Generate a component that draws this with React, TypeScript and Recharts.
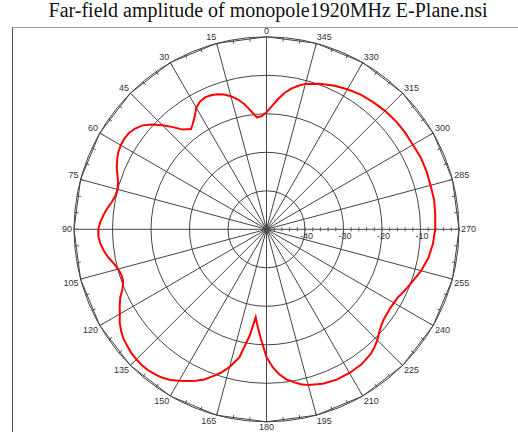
import React from 'react';
import { RadarChart, Radar, PolarGrid, PolarAngleAxis, PolarRadiusAxis } from 'recharts';

// angle in degrees (0 at top, counter-clockwise), gain in dB
const angleDeg = [
  0, 2.5, 5, 7.5, 10, 12.5, 15, 17.5, 20, 22.5, 25, 27.5, 30, 32.5, 35, 37, 40, 42.5, 45, 47.5,
  50, 52.5, 55, 57.5, 60, 62.5, 65, 67.5, 70, 72.5, 75, 77.5, 80, 82.5, 85, 87.5, 90, 92.5, 95, 97.5,
  100, 102.5, 105, 107.5, 110, 112.5, 115, 117.5, 120, 122.5, 125, 127.5, 130, 132.5, 135, 137.5, 140, 142.5, 145, 147.5,
  150, 152.5, 155, 157.5, 160, 162.5, 165, 168, 171, 173, 175, 177, 180, 182.5, 185, 187.5, 190, 192.5, 195,
  200, 205, 210, 215, 220, 222.5, 225, 227.5, 230, 232.5, 235, 237.5, 240, 242.5, 245, 247.5, 250, 255, 260, 265,
  270, 275, 280, 285, 290, 295, 300, 305, 310, 315, 320, 325, 330, 335, 340, 345, 347.5, 350, 352.5, 355, 357.5,
];
const gainDb = [
  -19.6, -20.6, -20.8, -19.0, -17.0, -15.4, -14.2, -13.3, -12.7, -12.3, -12.2, -12.6, -13.5, -15.3, -16.6, -17.4, -16.2, -14.0, -11.8, -9.7,
  -8.0, -7.0, -6.4, -6.2, -6.3, -6.6, -7.2, -7.9, -8.8, -9.6, -9.9, -9.8, -9.2, -8.3, -7.5, -6.8, -6.3, -6.3, -6.7, -7.4,
  -8.2, -9.3, -10.1, -10.5, -10.4, -9.5, -8.1, -7.0, -6.0, -4.8, -3.9, -3.2, -2.8, -2.4, -2.2, -2.1, -2.2, -2.5, -2.9, -3.6,
  -4.6, -5.6, -6.6, -7.8, -9.4, -11.0, -13.0, -16.0, -22.0, -27.0, -24.4, -21.6, -16.8, -14.2, -12.2, -10.7, -9.7, -8.8, -8.1,
  -7.3, -6.9, -6.9, -7.1, -7.8, -8.5, -9.3, -10.3, -11.1, -11.6, -11.8, -11.9, -11.8, -11.6, -11.0, -10.4, -9.8, -8.4, -7.3, -6.6,
  -6.2, -6.0, -5.8, -5.9, -5.8, -5.8, -6.1, -6.1, -6.2, -6.5, -6.9, -7.3, -8.0, -8.8, -9.8, -10.9, -11.8, -12.9, -14.3, -16.1, -18.0,
];
const radiusLabels = [-40, -30, -20, -10];

const patternData = angleDeg.map((angle, i) => ({ angle, gain: gainDb[i] }));

const labelFont = '"Liberation Sans", Arial, sans-serif';

const AngleLabel = (props: any) => {
  const { x, y, payload } = props;
  if (payload.value >= 360) return <g />;
  const a = (payload.coordinate * Math.PI) / 180;
  const c = Math.cos(a);
  const s = Math.sin(a);
  const anchor = Math.abs(c) < 0.1 ? 'middle' : c > 0 ? 'start' : 'end';
  const ty = s > 0.1 ? y - 1 : s < -0.1 ? y + 6.5 : y + 3;
  return (
    <text x={x} y={ty} textAnchor={anchor} fontSize={9} fill="#333" fontFamily={labelFont}>
      {payload.value}
    </text>
  );
};

const RadiusLabel = (props: any) => {
  const { x, y, payload } = props;
  if (!radiusLabels.includes(payload.value)) return <g />;
  return (
    <text x={x + 1.5} y={y + 10} textAnchor="middle" fontSize={9} fill="#333" fontFamily={labelFont}>
      {payload.value}
    </text>
  );
};

const RadiusMinorTick = (props: any) => {
  const { x, y } = props;
  return <line x1={x} y1={y - 2} x2={x} y2={y + 2} stroke="#555" strokeWidth={1} />;
};

const NoTick = () => <g />;

export default function App() {
  return (
    <div style={{ position: 'absolute', left: 0, top: 0, width: 518, height: 432, background: '#fff' }}>
      <div
        style={{
          position: 'absolute',
          left: 0,
          top: 0,
          width: 536,
          textAlign: 'center',
          fontFamily: '"Liberation Serif", "Times New Roman", serif',
          fontSize: 20,
          lineHeight: '21px',
          color: '#111',
        }}
      >
        Far-field amplitude of monopole1920MHz E-Plane.nsi
      </div>
      <div
        style={{
          position: 'absolute',
          left: 12,
          top: 27,
          width: 506,
          height: 404,
          borderLeft: '1px solid #555',
          borderTop: '1px solid #999',
          borderBottom: '1px solid #ccc',
        }}
      />
      <div style={{ position: 'absolute', left: 0, top: 0 }}>
        <RadarChart
          width={518}
          height={432}
          data={patternData}
          cx={266.5}
          cy={229.3}
          outerRadius={192.5}
          startAngle={90}
          endAngle={450}
          margin={{ top: 0, right: 0, bottom: 0, left: 0 }}
        >
          <PolarGrid
            angleAxisId="major"
            radiusAxisId="major"
            gridType="circle"
            stroke="#444"
            strokeWidth={1}
          />
          <PolarAngleAxis
            angleAxisId="minor"
            dataKey="angle"
            type="number"
            domain={[0, 360]}
            allowDataOverflow
            tickCount={73}
            axisLine={false}
            orientation="inner"
            tickSize={4}
            tickLine={{ stroke: '#555' }}
            tick={NoTick}
          />
          <PolarAngleAxis
            angleAxisId="major"
            dataKey="angle"
            type="number"
            domain={[0, 360]}
            allowDataOverflow
            tickCount={25}
            axisLine={{ stroke: '#444' }}
            tickLine={false}
            tickSize={2}
            tick={AngleLabel}
          />
          <PolarRadiusAxis
            radiusAxisId="minor"
            angle={0}
            domain={[-50, 0]}
            allowDataOverflow
            tickCount={26}
            axisLine={false}
            tick={RadiusMinorTick}
          />
          <PolarRadiusAxis
            radiusAxisId="major"
            angle={0}
            domain={[-50, 0]}
            allowDataOverflow
            tickCount={6}
            axisLine={false}
            tick={RadiusLabel}
          />
          <Radar
            angleAxisId="major"
            radiusAxisId="major"
            dataKey="gain"
            stroke="#ff0000"
            strokeWidth={2}
            fill="none"
            fillOpacity={0}
            dot={false}
            isAnimationActive={false}
          />
        </RadarChart>
      </div>
    </div>
  );
}
